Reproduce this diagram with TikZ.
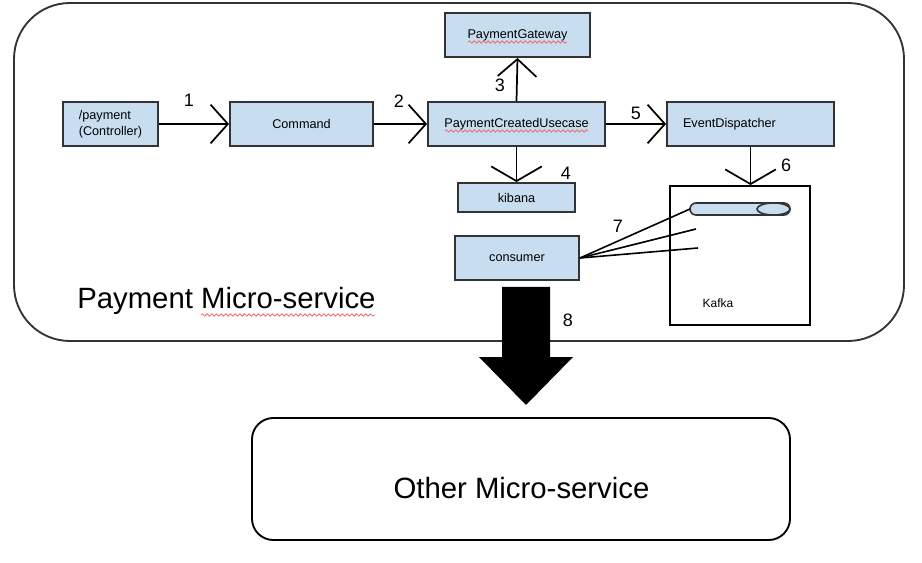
\documentclass[tikz,border=0pt]{standalone}
\usepackage{fontspec}
\setmainfont{Liberation Sans}
\usetikzlibrary{arrows.meta,decorations.pathmorphing}
\definecolor{boxfill}{RGB}{201,221,240}
\definecolor{edge}{RGB}{51,51,51}
\definecolor{squig}{RGB}{232,110,110}
\begin{document}
\begin{tikzpicture}[x=0.75pt,y=-0.75pt,
  comp/.style={draw=edge,fill=boxfill,line width=1.4pt,inner sep=0pt,
    font=\fontsize{9.5}{11.8}\selectfont},
  conn/.style={line width=1.3pt,
    -{Straight Barb[length=13pt,width=29pt,line width=1.3pt]}},
  wideconn/.style={line width=1.3pt,
    -{Straight Barb[length=11pt,width=38pt,line width=1.3pt]}},
  num/.style={font=\fontsize{13.5}{15}\selectfont},
  big/.style={font=\fontsize{22}{26}\selectfont},
  squiggle/.style={draw=squig,line width=0.6pt,decorate,
    decoration={snake,amplitude=0.9pt,segment length=3.5pt}}]
\useasboundingbox (0,0) rectangle (922,563);
\fill[white] (0,0) rectangle (922,563);

% containers
\draw[edge,line width=1.4pt,rounded corners=42pt] (14,3) rectangle (904,341);
\draw[black,line width=1.4pt,rounded corners=16pt] (252,418) rectangle (790,540);

% components
\node[comp,minimum width=71.25pt,minimum height=33pt,align=left] (ctrl) at (110.5,124) {/payment\\(Controller)};
\node[comp,minimum width=107.25pt,minimum height=33pt] (cmd) at (301.5,124) {Command};
\node[comp,minimum width=132.75pt,minimum height=33pt] (pcu) at (516.5,124) {PaymentCreatedUsecase};
\node[comp,minimum width=108.75pt,minimum height=33pt] (pg) at (517.5,35) {PaymentGateway};
\node[comp,minimum width=87.75pt,minimum height=21.75pt] (kib) at (516.5,197.5) {kibana};
\node[comp,minimum width=125.25pt,minimum height=33pt,text width=101.25pt,align=left] (ed) at (750.5,124) {EventDispatcher};
\node[comp,minimum width=93pt,minimum height=33pt] (cons) at (517,258) {consumer};
\node[draw=black,fill=white,line width=1.4pt,minimum width=105pt,minimum height=104.25pt] (kafka) at (740,255.5) {};
\node[font=\fontsize{9}{11}\selectfont] (kafkalbl) at (718,303) {Kafka};

% topic (horizontal cylinder)
\draw[edge,fill=boxfill,line width=1.2pt,rounded corners=4.5pt] (690,203) rectangle (790,215);
\draw[edge,fill=boxfill,line width=1.2pt] (773.5,209) ellipse [x radius=12.4pt,y radius=4.5pt];
\coordinate (k1) at (690,209);
\coordinate (k2) at (696,229);
\coordinate (k3) at (698,248);

% connectors
\draw[conn] (ctrl.east) -- (cmd.west);
\draw[conn] (cmd.east) -- (pcu.west);
\draw[conn] (pcu.north) -- (pg.south);
\draw[wideconn] (pcu.south) -- (kib.north);
\draw[conn] (pcu.east) -- (ed.west);
\draw[wideconn] (ed.south) -- (ed.south |- kafka.north);
\draw[line width=1.2pt] (cons.east) -- (k1);
\draw[line width=1.2pt] (cons.east) -- (k2);
\draw[line width=1.2pt] (cons.east) -- (k3);

% big arrow 8
\fill[black] (502,287) -- (550,287) -- (550,357) -- (573,357) -- (526,405) -- (479,357) -- (502,357) -- cycle;

% numbers
\node[num] (n1) at (189,100) {1};
\node[num] (n2) at (399,101) {2};
\node[num] (n3) at (500,85) {3};
\node[num] (n4) at (566,173) {4};
\node[num] (n5) at (636,113) {5};
\node[num] (n6) at (786,165) {6};
\node[num] (n7) at (618,226) {7};
\node[num] (n8) at (568,320) {8};

% titles
\node[big,anchor=base west,inner sep=0pt] (pms) at (77,309) {Payment Micro-service};
\node[big] (oms) at (521.5,488) {Other Micro-service};

% spell-check squiggles
\draw[squiggle] (468,42) -- (567,42);
\draw[squiggle] (445,131) -- (588,131);
\draw[squiggle] (201,315) -- (375,315);
\end{tikzpicture}
\end{document}
